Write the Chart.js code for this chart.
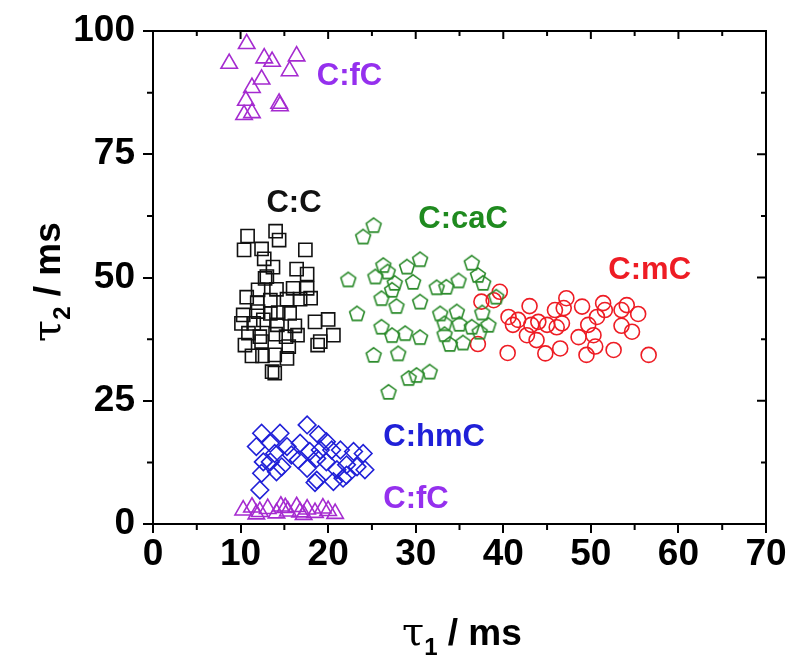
<!DOCTYPE html>
<html>
<head>
<meta charset="utf-8">
<script src="https://cdn.jsdelivr.net/npm/chart.js@4"></script>
<style>
  html, body { margin: 0; background: #fff; }
</style>
</head>
<body>
<canvas id="chart" width="800" height="672"></canvas>
<script>
// tau1 / tau2 values (ms)
let fcTopX = [10.7, 8.7, 12.7, 13.6, 16.4, 15.6, 12.4, 11.3, 10.6, 14.5, 14.4, 11.3, 10.4];
let fcTopY = [97.4, 93.4, 94.5, 93.8, 94.9, 91.9, 90.2, 88.5, 85.9, 84.8, 85.3, 83.4, 83.0];

let fcBotX = [10.3, 11.3, 12.2, 13.1, 14.1, 15.1, 15.4, 16.4, 16.8, 17.6, 18.5, 19.4, 20.0, 20.8, 11.8, 14.6, 17.2];
let fcBotY = [2.8, 3.4, 2.5, 3.1, 2.2, 3.3, 2.6, 3.5, 2.4, 3.0, 2.3, 3.2, 2.7, 2.1, 2.0, 3.6, 1.9];

let ccX = [10.8, 14.0, 14.4, 10.4, 12.4, 17.4, 12.7, 13.7, 16.4, 17.6, 13.0, 12.8, 12.0, 14.1, 16.0, 17.6,
  10.7, 11.9, 13.4, 15.3, 16.8, 18.0, 10.3, 12.0, 13.4, 14.3, 15.6, 10.1, 11.5, 12.6, 14.2, 16.2, 18.5, 20.0,
  10.9, 12.2, 14.0, 15.2, 16.5, 20.6, 19.1, 10.5, 12.4, 15.5, 18.8, 11.3, 12.5, 13.9, 15.3, 13.9, 13.6];
let ccY = [58.4, 59.4, 57.6, 55.6, 55.8, 55.6, 53.8, 52.1, 51.7, 50.7, 50.2, 49.8, 47.5, 47.6, 47.8, 47.8,
  46.0, 44.9, 45.4, 45.6, 45.6, 45.8, 42.4, 43.1, 42.7, 42.9, 42.7, 40.7, 40.7, 41.4, 40.4, 40.2, 41.0, 41.5,
  38.7, 38.0, 38.5, 38.0, 38.3, 38.3, 37.0, 36.3, 37.0, 36.0, 36.3, 34.1, 34.1, 34.3, 33.6, 30.6, 30.9];

let cacX = [25.2, 24.0, 22.3, 26.3, 25.4, 27.6, 29.0, 30.5, 29.7, 27.3, 26.1, 27.8, 30.5, 23.3, 26.1, 27.3,
  28.8, 30.5, 25.2, 28.0, 29.2, 30.1, 31.6, 26.9, 32.4, 33.5, 34.9, 36.4, 37.1, 37.7, 32.8, 34.7, 33.3,
  35.0, 33.3, 33.9, 35.4, 36.4, 38.3, 37.6, 39.2, 37.3, 26.8];
let cacY = [60.6, 58.3, 49.6, 52.5, 50.2, 48.9, 52.2, 53.7, 49.1, 47.5, 45.8, 44.2, 45.1, 42.7, 40.0, 38.3,
  38.7, 37.9, 34.3, 34.6, 29.6, 30.2, 30.9, 26.8, 48.0, 48.1, 49.4, 53.0, 50.5, 48.9, 42.7, 43.1, 40.7,
  40.6, 38.5, 36.5, 36.8, 40.0, 40.4, 42.9, 46.1, 39.0, 51.2];

let mcX = [39.6, 37.5, 38.9, 37.1, 40.6, 41.7, 43.0, 41.1, 43.2, 44.0, 42.7, 43.8, 45.0, 46.1, 45.9, 46.9,
  47.2, 49.0, 46.7, 40.5, 44.8, 46.5, 48.6, 49.7, 50.3, 50.7, 49.5, 50.5, 51.4, 51.6, 52.6, 53.5, 54.1,
  53.5, 54.7, 55.4, 56.6];
let mcY = [47.1, 45.1, 45.4, 36.5, 42.0, 41.4, 44.2, 40.4, 40.4, 41.0, 38.3, 37.3, 40.4, 39.9, 43.4, 43.8,
  45.8, 44.1, 40.7, 34.7, 34.6, 35.6, 37.9, 40.4, 38.3, 42.0, 34.3, 36.0, 44.8, 43.4, 35.3, 43.4, 44.4,
  40.2, 39.0, 42.6, 34.3];

let hmcX = [17.6, 12.4, 14.5, 16.8, 18.9, 19.8, 11.8, 13.4, 13.9, 15.8, 17.9, 18.7, 20.4, 21.4, 22.9, 24.0,
  12.6, 14.7, 16.6, 17.6, 19.8, 21.0, 22.1, 23.3, 24.2, 12.4, 14.1, 18.7, 18.5, 20.6, 21.7, 12.2, 15.3,
  19.1, 22.1, 13.4];
let hmcY = [20.1, 18.4, 18.4, 16.4, 18.1, 16.7, 15.7, 16.4, 14.3, 14.0, 14.7, 13.3, 15.0, 15.0, 14.7, 14.3,
  12.6, 11.6, 13.0, 11.3, 12.6, 11.0, 12.0, 11.6, 11.0, 10.3, 10.6, 8.9, 8.4, 8.6, 9.3, 6.9, 15.7,
  15.0, 9.9, 12.6];

let xTicks = [0, 10, 20, 30, 40, 50, 60, 70];
let yTicks = [0, 25, 50, 75, 100];

// group labels: text, x, y (data units), colour
let groupNames = ['C:fC', 'C:C', 'C:caC', 'C:mC', 'C:hmC', 'C:fC'];
let groupX = [18.7, 16.1, 30.3, 52.0, 26.3, 26.3];
let groupY = [90.7, 65.1, 61.7, 51.5, 17.6, 4.9];

const PURPLE = '#a52bd0';
const BLACK = '#111111';
const GREEN = '#2a8a2a';
const RED = '#ee1c24';
const BLUE = '#2020d8';
let groupColors = ['#9530ee', BLACK, '#1f8a1f', RED, BLUE, '#9530ee'];

function pts(xs, ys) {
  return xs.map((x, i) => ({ x: x, y: ys[i] }));
}

function pentagon(color, r) {
  let c = document.createElement('canvas');
  let s = Math.ceil(2 * r + 4);
  c.width = s;
  c.height = s;
  let g = c.getContext('2d');
  g.strokeStyle = color;
  g.lineWidth = 1.6;
  g.beginPath();
  for (let i = 0; i < 5; i++) {
    let a = -Math.PI / 2 + (i * 2 * Math.PI) / 5;
    g.lineTo(s / 2 + r * Math.cos(a), s / 2 + 0.6 + r * Math.sin(a));
  }
  g.closePath();
  g.stroke();
  return c;
}

function series(data, style, color, radius) {
  return {
    data: data,
    pointStyle: style,
    pointRadius: radius,
    pointHoverRadius: radius,
    pointBorderColor: color,
    pointBackgroundColor: 'rgba(0,0,0,0)',
    pointBorderWidth: 1.6,
    showLine: false,
    clip: false,
  };
}

const decorations = {
  id: 'decorations',
  afterDraw(chart) {
    let ctx = chart.ctx;
    let xs = chart.scales.x;
    let ys = chart.scales.y;
    let a = chart.chartArea;
    ctx.save();
    ctx.strokeStyle = '#000';
    ctx.lineWidth = 2;
    // top and right frame
    ctx.beginPath();
    ctx.moveTo(a.left, a.top);
    ctx.lineTo(a.right, a.top);
    ctx.lineTo(a.right, a.bottom);
    ctx.stroke();
    // x ticks: minor outside bottom, all inside top
    for (let v = 0; v <= 70; v += 5) {
      let px = xs.getPixelForValue(v);
      let major = v % 10 === 0;
      ctx.beginPath();
      if (!major) {
        ctx.moveTo(px, a.bottom);
        ctx.lineTo(px, a.bottom + 6);
      }
      ctx.moveTo(px, a.top);
      ctx.lineTo(px, a.top + (major ? 8 : 5));
      ctx.stroke();
    }
    // y ticks: minor outside left, all inside right
    for (let v = 0; v <= 100; v += 12.5) {
      let py = ys.getPixelForValue(v);
      let major = v % 25 === 0;
      ctx.beginPath();
      if (!major) {
        ctx.moveTo(a.left - 6, py);
        ctx.lineTo(a.left, py);
      }
      ctx.moveTo(a.right, py);
      ctx.lineTo(a.right - (major ? 9 : 5), py);
      ctx.stroke();
    }
    // group labels
    ctx.font = 'bold 31px "Liberation Sans", Arial, sans-serif';
    ctx.textBaseline = 'middle';
    groupNames.forEach((name, i) => {
      ctx.fillStyle = groupColors[i];
      ctx.textAlign = name === 'C:C' ? 'center' : 'left';
      ctx.fillText(name, xs.getPixelForValue(groupX[i]), ys.getPixelForValue(groupY[i]));
    });
    // axis titles
    ctx.fillStyle = '#000';
    ctx.textAlign = 'left';
    ctx.textBaseline = 'alphabetic';
    drawTitle(ctx, '1', 402, 645);
    ctx.translate(60, 342);
    ctx.rotate(-Math.PI / 2);
    drawTitle(ctx, '2', 0, 0);
    ctx.restore();
  },
};

function drawTitle(ctx, sub, x, y) {
  ctx.font = '40px "DejaVu Serif", serif';
  ctx.fillText('\u03c4', x, y);
  let w = ctx.measureText('\u03c4').width;
  ctx.font = 'bold 24px "Liberation Sans", Arial, sans-serif';
  ctx.fillText(sub, x + w, y + 10);
  let w2 = ctx.measureText(sub).width;
  ctx.font = 'bold 37px "Liberation Sans", Arial, sans-serif';
  ctx.fillText(' / ms', x + w + w2, y);
}

const tickFont = { family: '"Liberation Sans", Arial, sans-serif', size: 37, weight: 'bold' };

new Chart(document.getElementById('chart').getContext('2d'), {
  type: 'scatter',
  data: {
    datasets: [
      series(pts(fcTopX, fcTopY), 'triangle', PURPLE, 9.5),
      series(pts(fcBotX, fcBotY), 'triangle', PURPLE, 9.5),
      series(pts(ccX, ccY), 'rect', BLACK, 9.3),
      series(pts(cacX, cacY), pentagon(GREEN, 7.8), GREEN, 8),
      series(pts(mcX, mcY), 'circle', RED, 7.5),
      series(pts(hmcX, hmcY), 'rectRot', BLUE, 8.8),
    ],
  },
  options: {
    responsive: false,
    animation: false,
    layout: { padding: { left: 0, top: 31, right: 34, bottom: 0 } },
    plugins: { legend: { display: false }, tooltip: { enabled: false } },
    scales: {
      x: {
        type: 'linear',
        min: 0,
        max: 70,
        afterFit: (s) => { s.height = 148; },
        afterBuildTicks: (s) => { s.ticks = xTicks.map((v) => ({ value: v })); },
        ticks: { font: tickFont, color: '#000', padding: 0, maxRotation: 0 },
        grid: { drawOnChartArea: false, color: '#000', lineWidth: 2, tickLength: 9 },
        border: { color: '#000', width: 2 },
      },
      y: {
        type: 'linear',
        min: 0,
        max: 100,
        afterFit: (s) => { s.width = 153; },
        afterBuildTicks: (s) => { s.ticks = yTicks.map((v) => ({ value: v })); },
        ticks: { font: tickFont, color: '#000', padding: 8 },
        grid: { drawOnChartArea: false, color: '#000', lineWidth: 2, tickLength: 10 },
        border: { color: '#000', width: 2 },
      },
    },
  },
  plugins: [decorations],
});
</script>
</body>
</html>
